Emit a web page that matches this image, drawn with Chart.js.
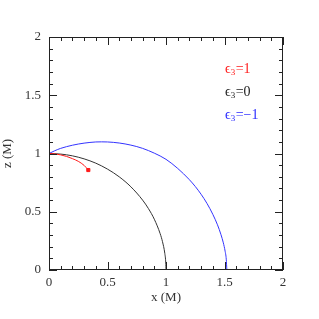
<!DOCTYPE html>
<html>
<head>
<meta charset="utf-8">
<script src="https://cdn.jsdelivr.net/npm/chart.js@4.4.0/dist/chart.umd.min.js"></script>
<style>
  html, body { margin: 0; padding: 0; background: #fff; }
  canvas { display: block; }
</style>
</head>
<body>
<canvas id="orbit" width="319" height="319"></canvas>
<script>
// curves (x, z in units of M)
var redX = [0, 0.05, 0.1, 0.15, 0.2, 0.25, 0.3, 0.336];
var redZ = [1, 0.997, 0.988, 0.975, 0.956, 0.933, 0.898, 0.858];

var blackX = [0, 0.1, 0.2, 0.3, 0.4, 0.5, 0.6, 0.7, 0.8, 0.85, 0.9, 0.95, 0.97, 0.99, 0.998, 1.0];
var blackZ = [1, 0.995, 0.98, 0.954, 0.917, 0.866, 0.8, 0.714, 0.6, 0.527, 0.436, 0.312, 0.243, 0.141, 0.06, 0];

var blueX = [0, 0.05, 0.1, 0.2, 0.3, 0.4, 0.45, 0.5, 0.6, 0.7, 0.8, 0.9, 1.0, 1.1, 1.2, 1.25, 1.3, 1.35, 1.4, 1.44, 1.47, 1.49, 1.505, 1.515, 1.52];
var blueZ = [1.0, 1.024, 1.044, 1.071, 1.089, 1.099, 1.1, 1.099, 1.09, 1.072, 1.044, 1.003, 0.95, 0.872, 0.775, 0.717, 0.65, 0.572, 0.478, 0.388, 0.303, 0.233, 0.163, 0.093, 0];

var axisTicks = [0, 0.5, 1, 1.5, 2];
var legendNames = ["1", "0", "\u22121"];
var legendColors = ["#ff1a1a", "#222222", "#2a2aff"];

function pts(xs, zs) {
    return xs.map(function (v, i) { return { x: v, y: zs[i] }; });
}

var serif = "'Liberation Serif', 'DejaVu Serif', serif";

// box with inward ticks on all four sides
var frame = {
    id: 'frame',
    afterDatasetsDraw: function (chart) {
        var ctx = chart.ctx, a = chart.chartArea;
        var xs = chart.scales.x, ys = chart.scales.y;
        ctx.save();
        ctx.strokeStyle = '#222';
        ctx.lineWidth = 1;
        ctx.strokeRect(a.left + 0.5, a.top + 0.5, a.right - a.left - 1, a.bottom - a.top - 1);
        ctx.beginPath();
        for (var i = 0; i <= 20; i++) {
            var v = i / 10;
            var len = (i % 5 === 0) ? 8 : 4;
            var px = Math.round(xs.getPixelForValue(v)) + 0.5;
            var py = Math.round(ys.getPixelForValue(v)) + 0.5;
            ctx.moveTo(px, a.bottom); ctx.lineTo(px, a.bottom - len);
            ctx.moveTo(px, a.top); ctx.lineTo(px, a.top + len);
            ctx.moveTo(a.left, py); ctx.lineTo(a.left + len, py);
            ctx.moveTo(a.right, py); ctx.lineTo(a.right - len, py);
        }
        ctx.stroke();

        // legend: epsilon_3 = value
        var lx = a.left + 176, ly = a.top + 32;
        ctx.textBaseline = 'middle';
        for (var k = 0; k < legendNames.length; k++) {
            var y = ly + k * 23;
            ctx.fillStyle = legendColors[k];
            ctx.font = '14px ' + serif;
            ctx.fillText('\u03f5', lx, y);
            var w = ctx.measureText('\u03f5').width;
            ctx.font = '9px ' + serif;
            ctx.fillText('3', lx + w, y + 4);
            var w2 = ctx.measureText('3').width;
            ctx.font = '14px ' + serif;
            ctx.fillText('=' + legendNames[k], lx + w + w2 + 0.5, y);
        }
        ctx.restore();
    }
};

function fmt(v) { return String(v); }

var chart = new Chart(document.getElementById('orbit').getContext('2d'), {
    type: 'scatter',
    data: {
        datasets: [{
            label: 'eps3=1',
            data: pts(redX, redZ),
            showLine: true,
            borderColor: legendColors[0],
            backgroundColor: legendColors[0],
            borderWidth: 1,
            cubicInterpolationMode: 'monotone',
            pointStyle: 'rect',
            pointRadius: redX.map(function (v, i) { return i === redX.length - 1 ? 2.2 : 0; }),
            pointBorderWidth: 1
        }, {
            label: 'eps3=0',
            data: pts(blackX, blackZ),
            showLine: true,
            borderColor: '#333',
            borderWidth: 1,
            cubicInterpolationMode: 'monotone',
            pointRadius: 0
        }, {
            label: 'eps3=-1',
            data: pts(blueX, blueZ),
            showLine: true,
            borderColor: '#3333ff',
            borderWidth: 1,
            cubicInterpolationMode: 'monotone',
            pointRadius: 0
        }]
    },
    options: {
        responsive: false,
        animation: false,
        layout: { padding: { top: 37, right: 36, left: 0, bottom: 0 } },
        scales: {
            x: {
                type: 'linear',
                min: 0,
                max: 2,
                afterFit: function (s) { s.height = 49; },
                afterBuildTicks: function (s) { s.ticks = axisTicks.map(function (v) { return { value: v }; }); },
                grid: { display: false, drawTicks: false },
                border: { display: false },
                ticks: {
                    color: '#333',
                    padding: 5,
                    maxRotation: 0,
                    autoSkip: false,
                    callback: fmt,
                    font: { family: serif, size: 13 }
                },
                title: {
                    display: true,
                    text: 'x (M)',
                    color: '#333',
                    font: { family: serif, size: 13 },
                    padding: { top: 0, bottom: 14 }
                }
            },
            y: {
                type: 'linear',
                min: 0,
                max: 2,
                afterFit: function (s) { s.width = 49; },
                afterBuildTicks: function (s) { s.ticks = axisTicks.map(function (v) { return { value: v }; }); },
                grid: { display: false, drawTicks: false },
                border: { display: false },
                ticks: {
                    color: '#333',
                    padding: 8,
                    autoSkip: false,
                    callback: fmt,
                    font: { family: serif, size: 13 }
                },
                title: {
                    display: true,
                    text: 'z (M)',
                    color: '#333',
                    font: { family: serif, size: 13 },
                    padding: { top: 0, bottom: 0 }
                }
            }
        },
        plugins: {
            legend: { display: false },
            tooltip: { enabled: false }
        }
    },
    plugins: [frame]
});
</script>
</body>
</html>
